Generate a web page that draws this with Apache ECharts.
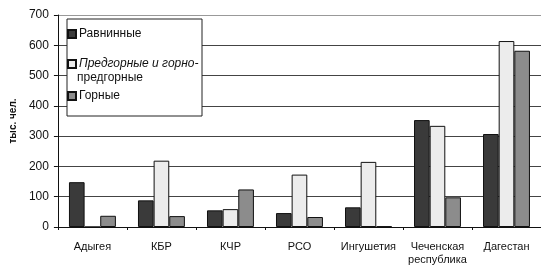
<!DOCTYPE html>
<html>
<head>
<meta charset="utf-8">
<script src="https://cdn.jsdelivr.net/npm/echarts@6/dist/echarts.min.js"></script>
<style>
  html, body { margin: 0; padding: 0; background: #fff; }
  #chart { width: 541px; height: 266px; }
</style>
</head>
<body>
<div id="chart"></div>
<script>
const regions = ['Адыгея', 'КБР', 'КЧР', 'РСО', 'Ингушетия', 'Чеченская\nреспублика', 'Дагестан']
const plain = [148, 88, 55, 46, 65, 353, 307]       // Равнинные
const foothill = [0, 219, 59, 173, 215, 334, 614]   // Предгорные и горно-предгорные
const mountain = [37, 36, 124, 33, 2, 98, 582]      // Горные
const yTicks = [0, 700, 100]  // min, max, step

const font = 'Liberation Sans, Arial, sans-serif'

const chart = echarts.init(document.getElementById('chart'))

const barSeries = (name, data, color) => ({
  name,
  type: 'bar',
  data,
  barGap: '0%',
  barCategoryGap: '32%',
  itemStyle: { color, borderColor: '#111', borderWidth: 1 }
})

const legendItem = (name, top, extra) => ({
  data: [name],
  left: 67,
  top,
  padding: 0,
  z: 20,
  itemWidth: 8,
  itemHeight: 8,
  icon: 'rect',
  selectedMode: false,
  textStyle: { fontFamily: font, fontSize: 12, color: '#111', padding: [0, 0, 0, -2] },
  ...extra
})

chart.setOption({
  animation: false,
  textStyle: { fontFamily: font },
  grid: { left: 49, right: 0, top: 15, bottom: 37 },
  legend: [
    legendItem('Равнинные', 28),
    legendItem('Предгорные и горно-предгорные', 58, {
      formatter: () => 'Предгорные и горно-',
      textStyle: { fontFamily: font, fontSize: 12, color: '#111', fontStyle: 'italic', padding: [0, 0, 0, -2] }
    }),
    legendItem('Горные', 90)
  ],
  graphic: [
    {
      type: 'rect', z: 10,
      shape: { x: 67, y: 19, width: 135, height: 97 },
      style: { fill: '#fff', stroke: '#222', lineWidth: 1 }
    },
    {
      type: 'text', z: 21, left: 77, top: 72,
      style: { text: 'предгорные', font: '12px ' + font, fill: '#111' }
    }
  ],
  xAxis: {
    type: 'category',
    data: regions,
    axisLine: { lineStyle: { color: '#111', width: 1 } },
    axisTick: { show: true, length: 3, lineStyle: { color: '#111' } },
    axisLabel: { color: '#111', fontSize: 11, margin: 13, lineHeight: 13, interval: 0 }
  },
  yAxis: {
    type: 'value',
    min: yTicks[0],
    max: yTicks[1],
    interval: yTicks[2],
    name: 'тыс. чел.',
    nameLocation: 'middle',
    nameGap: 35,
    nameTextStyle: { color: '#111', fontSize: 10, fontWeight: 'bold' },
    axisLine: { show: true, lineStyle: { color: '#111', width: 1 } },
    axisTick: { show: true, length: 4, lineStyle: { color: '#111' } },
    axisLabel: { color: '#111', fontSize: 12, margin: 9 },
    splitLine: {
      lineStyle: {
        color: ['#444', '#444', '#444', '#444', '#444', '#444', '#444', '#999'],
        width: 1
      }
    }
  },
  series: [
    barSeries('Равнинные', plain, '#3a3a3a'),
    barSeries('Предгорные и горно-предгорные', foothill, '#ececec'),
    barSeries('Горные', mountain, '#8c8c8c')
  ]
})
</script>
</body>
</html>
